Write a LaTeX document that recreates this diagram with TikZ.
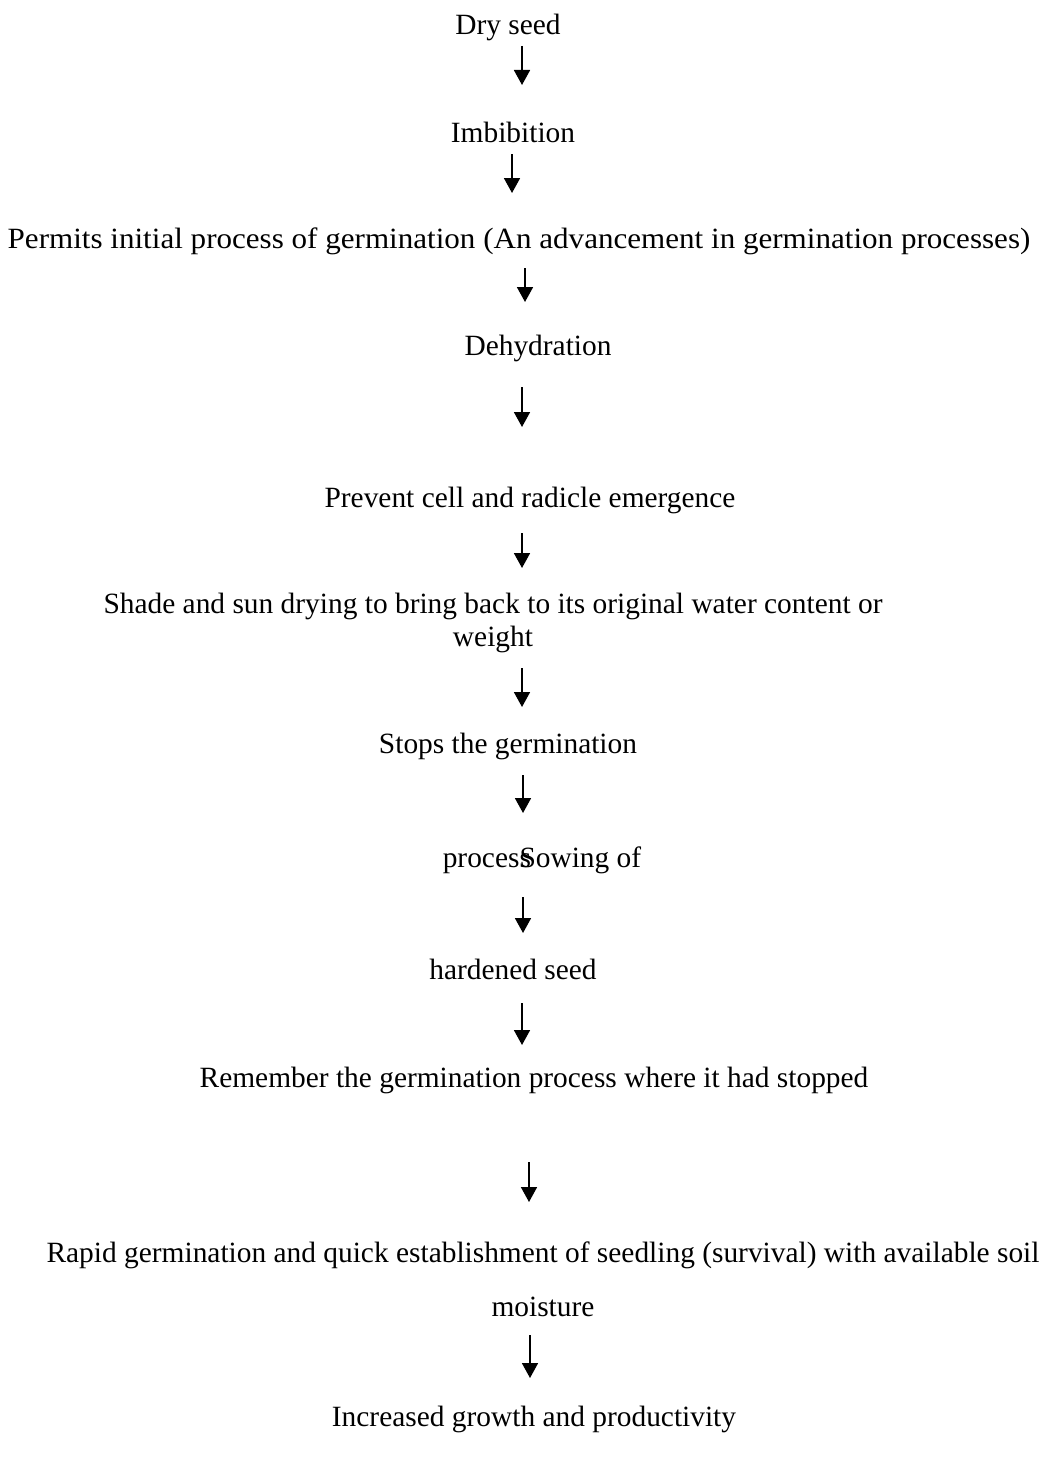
\documentclass[tikz,border=0pt]{standalone}
\usepackage{fontspec}
\setmainfont{Liberation Serif}
\usepackage{graphicx}
\usepackage{tikz}
\usetikzlibrary{arrows.meta,positioning}

\begin{document}
\begin{tikzpicture}[x=0.5pt,y=-0.5pt,>={Triangle[length=7.5pt,width=8pt]},
 every node/.style={align=center,inner sep=0pt},
 stage/.style={font=\fontsize{14.7}{16.5}\selectfont},
 flow/.style={->,line width=0.9pt}]
\useasboundingbox (0,0) rectangle (1045,1461);
% stages of seed hardening
\node[stage] (dry) at (508,27) {Dry seed};
\node[stage] (imbib) at (513,132) {Imbibition};
\node[stage] (permits) at (519,241) {\scalebox{1.057}[1]{Permits initial process of germination (An advancement in germination processes)}};
\node[stage] (dehyd) at (538,348) {Dehydration};
\node[stage] (prevent) at (530,500) {Prevent cell and radicle emergence};
\node[stage] (shade) at (493,623) {Shade and sun drying to bring back to its original water content or\\weight};
\node[stage] (stops) at (508,746) {Stops the germination};
\node[stage] (sowing) at (542,860) {proces\rlap{s}Sowing of};
\node[stage] (hardened) at (513,969) {hardened seed};
\node[stage] (remember) at (534,1080) {Remember the germination process where it had stopped};
\node[stage,font=\fontsize{14.7}{27}\selectfont] (rapid) at (543,1279) {Rapid germination and quick establishment of seedling (survival) with available soil\\moisture};
\node[stage] (increased) at (534,1419) {Increased growth and productivity};
% arrow ends
\coordinate (a1) at (522,46);   \coordinate (b1) at (522,85);
\coordinate (a2) at (512,154);  \coordinate (b2) at (512,193);
\coordinate (a3) at (525,268);  \coordinate (b3) at (525,302);
\coordinate (a4) at (522,387);  \coordinate (b4) at (522,427);
\coordinate (a5) at (522,533);  \coordinate (b5) at (522,568);
\coordinate (a6) at (522,668);  \coordinate (b6) at (522,707);
\coordinate (a7) at (523,775);  \coordinate (b7) at (523,813);
\coordinate (a8) at (523,897);  \coordinate (b8) at (523,933);
\coordinate (a9) at (522,1003); \coordinate (b9) at (522,1045);
\coordinate (a10) at (529,1162); \coordinate (b10) at (529,1202);
\coordinate (a11) at (530,1335); \coordinate (b11) at (530,1378);
\draw[flow] (a1)--(b1);
\draw[flow] (a2)--(b2);
\draw[flow] (a3)--(b3);
\draw[flow] (a4)--(b4);
\draw[flow] (a5)--(b5);
\draw[flow] (a6)--(b6);
\draw[flow] (a7)--(b7);
\draw[flow] (a8)--(b8);
\draw[flow] (a9)--(b9);
\draw[flow] (a10)--(b10);
\draw[flow] (a11)--(b11);
\end{tikzpicture}
\end{document}
